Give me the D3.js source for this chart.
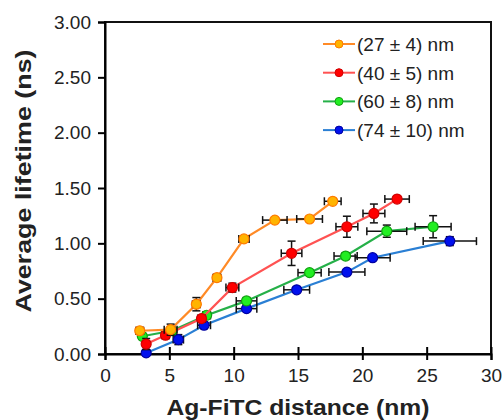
<!DOCTYPE html>
<meta charset="utf-8">
<head>
<script src="https://cdn.jsdelivr.net/npm/d3@7/dist/d3.min.js"></script>
</head>
<style>
  body { margin: 0; background: #fff; font-family: "Liberation Sans", Arial, sans-serif; }
  .tick text { font-size: 19px; fill: #222; }
</style>
<body></body>
<script>
var width = 503, height = 420;
var margin = {left: 105, right: 12, top: 22, bottom: 66};

var seriesNames = ["(27 \u00b1 4) nm", "(40 \u00b1 5) nm", "(60 \u00b1 8) nm", "(74 \u00b1 10) nm"];
var lineColors = ["#ff8a26", "#ff5252", "#25b048", "#2a7fd4"];
var fillColors = ["#ffb400", "#ff0000", "#22ee22", "#0010ee"];
var edgeColors = ["#ff7a00", "#d00000", "#10a010", "#0000a0"];

// distance (nm), lifetime (ns), x error, y error
var dist27 = [2.7, 5.1, 7.1, 8.7, 10.8, 13.2, 15.9, 17.7];
var life27 = [0.21, 0.22, 0.45, 0.69, 1.04, 1.21, 1.22, 1.38];
var dx27 = [0.3, 0.5, 0.3, 0.3, 0.4, 0.95, 1.0, 0.65];
var dy27 = [0.03, 0.05, 0.06, 0.03, 0.02, 0.02, 0.02, 0.02];

var dist40 = [3.2, 4.7, 7.5, 9.9, 14.5, 18.8, 20.9, 22.7];
var life40 = [0.09, 0.17, 0.32, 0.60, 0.91, 1.15, 1.27, 1.40];
var dx40 = [0.2, 0.3, 0.3, 0.5, 0.8, 0.85, 0.85, 0.95];
var dy40 = [0.05, 0.03, 0.03, 0.04, 0.11, 0.095, 0.085, 0.02];

var dist60 = [2.9, 5.2, 7.9, 11.0, 15.9, 18.7, 21.9, 25.5];
var life60 = [0.16, 0.21, 0.35, 0.48, 0.735, 0.885, 1.11, 1.15];
var dx60 = [0.2, 0.3, 0.3, 0.8, 0.9, 0.9, 1.55, 1.4];
var dy60 = [0.02, 0.03, 0.03, 0.03, 0.02, 0.03, 0.055, 0.1];

var dist74 = [3.2, 5.7, 7.7, 11.0, 14.9, 18.8, 20.8, 26.8];
var life74 = [0.01, 0.13, 0.26, 0.41, 0.58, 0.74, 0.87, 1.02];
var dx74 = [0.1, 0.4, 0.5, 0.8, 1.0, 1.4, 1.36, 2.07];
var dy74 = [0.01, 0.045, 0.03, 0.02, 0.02, 0.02, 0.02, 0.04];

var xTicks = [0, 5, 10, 15, 20, 25, 30];
var yTicks = [0, 0.5, 1, 1.5, 2, 2.5, 3];

var series = [
  {x: dist27, y: life27, dx: dx27, dy: dy27},
  {x: dist40, y: life40, dx: dx40, dy: dy40},
  {x: dist60, y: life60, dx: dx60, dy: dy60},
  {x: dist74, y: life74, dx: dx74, dy: dy74}
];

var svg = d3.select("body").append("svg")
    .attr("width", width)
    .attr("height", height);

var x = d3.scaleLinear().domain([0, 30]).range([margin.left, width - margin.right]);
var y = d3.scaleLinear().domain([0, 3]).range([height - margin.bottom, margin.top]);

// frame
svg.append("rect")
    .attr("x", x(0)).attr("y", y(3))
    .attr("width", x(30) - x(0)).attr("height", y(0) - y(3))
    .attr("fill", "none").attr("stroke", "#111").attr("stroke-width", 2);

var xAxis = svg.append("g")
    .attr("transform", "translate(0," + y(0) + ")")
    .call(d3.axisBottom(x).tickValues(xTicks).tickSize(6).tickPadding(9));
xAxis.selectAll(".tick line").attr("y1", -7).attr("stroke-width", 2);
xAxis.select(".domain").attr("stroke-width", 2);

var yAxis = svg.append("g")
    .attr("transform", "translate(" + x(0) + ",0)")
    .call(d3.axisLeft(y).tickValues(yTicks).tickFormat(d3.format(".2f")).tickSize(7).tickPadding(7));
yAxis.selectAll(".tick line").attr("stroke-width", 2);
yAxis.select(".domain").attr("stroke-width", 2);
svg.selectAll(".tick text").attr("font-family", "Liberation Sans, Arial, sans-serif");

var line = d3.line().x(function(d) { return x(d[0]); }).y(function(d) { return y(d[1]); });

// draw in reverse so the orange sits on top
series.slice().reverse().forEach(function(s, ri) {
  var i = series.length - 1 - ri;
  var pts = s.x.map(function(v, k) { return [v, s.y[k], s.dx[k], s.dy[k]]; });
  var g = svg.append("g");

  g.append("path")
      .datum(pts)
      .attr("d", line)
      .attr("fill", "none")
      .attr("stroke", lineColors[i])
      .attr("stroke-width", 2.2);

  var eb = g.selectAll(".eb").data(pts).enter().append("g")
      .attr("stroke", "#111").attr("stroke-width", 1.5);
  eb.append("line")
      .attr("x1", function(d) { return x(d[0] - d[2]); })
      .attr("x2", function(d) { return x(d[0] + d[2]); })
      .attr("y1", function(d) { return y(d[1]); })
      .attr("y2", function(d) { return y(d[1]); });
  eb.append("line")
      .attr("x1", function(d) { return x(d[0] - d[2]); })
      .attr("x2", function(d) { return x(d[0] - d[2]); })
      .attr("y1", function(d) { return y(d[1]) - 4; })
      .attr("y2", function(d) { return y(d[1]) + 4; });
  eb.append("line")
      .attr("x1", function(d) { return x(d[0] + d[2]); })
      .attr("x2", function(d) { return x(d[0] + d[2]); })
      .attr("y1", function(d) { return y(d[1]) - 4; })
      .attr("y2", function(d) { return y(d[1]) + 4; });
  eb.append("line")
      .attr("x1", function(d) { return x(d[0]); })
      .attr("x2", function(d) { return x(d[0]); })
      .attr("y1", function(d) { return y(d[1] - d[3]); })
      .attr("y2", function(d) { return y(d[1] + d[3]); });
  eb.append("line")
      .attr("x1", function(d) { return x(d[0]) - 4; })
      .attr("x2", function(d) { return x(d[0]) + 4; })
      .attr("y1", function(d) { return y(d[1] - d[3]); })
      .attr("y2", function(d) { return y(d[1] - d[3]); });
  eb.append("line")
      .attr("x1", function(d) { return x(d[0]) - 4; })
      .attr("x2", function(d) { return x(d[0]) + 4; })
      .attr("y1", function(d) { return y(d[1] + d[3]); })
      .attr("y2", function(d) { return y(d[1] + d[3]); });

  g.selectAll("circle").data(pts).enter().append("circle")
      .attr("cx", function(d) { return x(d[0]); })
      .attr("cy", function(d) { return y(d[1]); })
      .attr("r", 5)
      .attr("fill", fillColors[i])
      .attr("stroke", edgeColors[i])
      .attr("stroke-width", 1.2);
});

// legend
var legend = svg.selectAll(".legend")
    .data(seriesNames)
    .enter().append("g")
    .attr("transform", function(d, i) { return "translate(323," + (44 + 28.7 * i) + ")"; });
legend.append("line")
    .attr("x1", 0).attr("x2", 32).attr("y1", 0).attr("y2", 0)
    .attr("stroke", function(d, i) { return lineColors[i]; })
    .attr("stroke-width", 2);
legend.append("circle")
    .attr("cx", 16).attr("cy", 0).attr("r", 4)
    .attr("fill", function(d, i) { return fillColors[i]; })
    .attr("stroke", function(d, i) { return edgeColors[i]; })
    .attr("stroke-width", 1);
legend.append("text")
    .attr("x", 34).attr("y", 7)
    .style("font-size", "19px")
    .style("fill", "#222")
    .text(function(d) { return d; });

// axis titles
svg.append("text")
    .attr("x", 298)
    .attr("y", 415)
    .attr("text-anchor", "middle")
    .attr("textLength", 263)
    .attr("lengthAdjust", "spacingAndGlyphs")
    .style("font-size", "22px")
    .style("font-weight", "bold")
    .style("fill", "#222")
    .text("Ag-FiTC distance (nm)");

svg.append("text")
    .attr("transform", "translate(31,181) rotate(-90)")
    .attr("text-anchor", "middle")
    .attr("textLength", 263)
    .attr("lengthAdjust", "spacingAndGlyphs")
    .style("font-size", "22px")
    .style("font-weight", "bold")
    .style("fill", "#222")
    .text("Average lifetime (ns)");
</script>
</html>
